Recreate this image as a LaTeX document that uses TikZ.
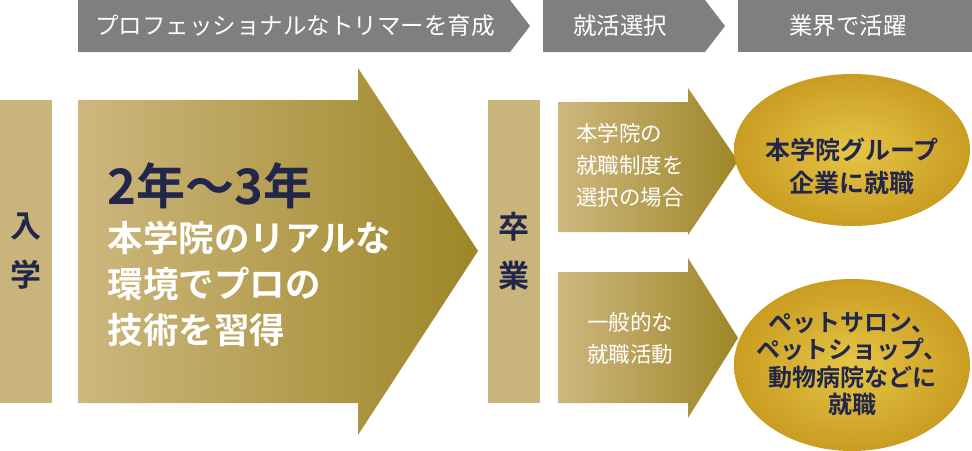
\documentclass[tikz,border=0pt]{standalone}
\usepackage{fontspec}
\setmainfont{Noto Sans CJK JP}
\newfontfamily\jpbold{Noto Sans CJK JP Bold}
\definecolor{headgray}{HTML}{7F7F7F}
\definecolor{tan}{HTML}{C9B57C}
\definecolor{goldlight}{HTML}{CDB77E}
\definecolor{golddark}{HTML}{9E8627}
\definecolor{navy}{HTML}{22264A}
\definecolor{sun}{HTML}{E6C545}
\definecolor{sundark}{HTML}{C99D22}
\tikzset{
	headtxt/.style={text=white, font=\fontsize{23.5}{23.5}\selectfont},
	bartxt/.style={text=navy, font=\jpbold\fontsize{31}{31}\selectfont},
	smalltxt/.style={text=white, align=left, font=\fontsize{21.5}{32}\selectfont},
	circtxt/.style={text=navy, align=center, font=\jpbold\fontsize{24}{27.5}\selectfont}
}
\begin{document}
\begin{tikzpicture}[x=1pt,y=-1pt]
	\useasboundingbox (0,0) rectangle (972,450);
	% header
	\fill[headgray] (78,0) -- (510,0) -- (530,26) -- (510,52) -- (78,52) -- cycle;
	\fill[headgray] (543,0) -- (705,0) -- (725,26) -- (705,52) -- (543,52) -- cycle;
	\fill[headgray] (738,0) rectangle (972,52);
	\node[headtxt] (h1) at (295,26) {プロフェッショナルなトリマーを育成};
	\node[headtxt] (h2) at (620,26) {就活選択};
	\node[headtxt] (h3) at (848,26) {業界で活躍};
	% bars
	\fill[tan] (0,100) rectangle (52,403);
	\node[bartxt, align=center] (nyu) at (26,251) {入\\[18pt]学};
	\fill[tan] (488,100) rectangle (540,403);
	\node[bartxt, align=center] (sotsu) at (514,251) {卒\\[18pt]業};
	% big arrow
	\shade[left color=goldlight, right color=golddark]
		(78,100) -- (358,100) -- (358,68) -- (478,251) -- (358,435) -- (358,403) -- (78,403) -- cycle;
	\node[anchor=west, text=navy, font=\jpbold\fontsize{49}{49}\selectfont] (years) at (104,186) {2年〜3年};
	\node[anchor=north west, text=white, align=left, font=\jpbold\fontsize{35.5}{46}\selectfont] (learn) at (104,218) {本学院のリアルな\\環境でプロの\\技術を習得};
	% small arrows
	\shade[left color=goldlight, right color=golddark]
		(558,102) -- (688,102) -- (688,88) -- (738,161) -- (688,235) -- (688,232) -- (558,232) -- cycle;
	\shade[left color=goldlight, right color=golddark]
		(558,272) -- (688,272) -- (688,258) -- (738,338) -- (688,418) -- (688,403) -- (558,403) -- cycle;
	\node[smalltxt] (sys) at (630,165) {本学院の\\就職制度を\\選択の場合};
	\node[smalltxt, align=center] (gen) at (630,338) {一般的な\\就職活動};
	% circles
	\shade[inner color=sun, outer color=sundark] (852,150) ellipse [x radius=118, y radius=76];
	\shade[inner color=sun, outer color=sundark] (852,365) ellipse [x radius=118, y radius=86];
	\node[circtxt, font=\jpbold\fontsize{25}{33}\selectfont] (grp) at (852,166) {本学院グループ\\企業に就職};
	\node[circtxt] (pet) at (852,364) {ペットサロン、\\ペットショップ、\\動物病院などに\\就職};
\end{tikzpicture}
\end{document}
